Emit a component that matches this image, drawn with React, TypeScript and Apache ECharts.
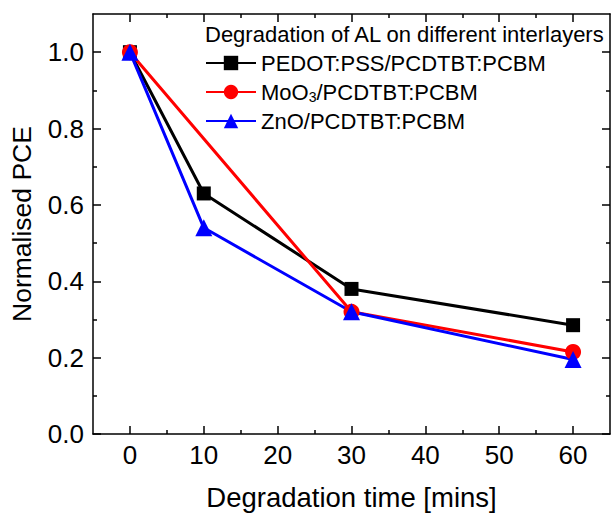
import React, { useEffect, useRef } from "react";
import * as echarts from "echarts";

const pedotTimes = [0, 10, 30, 60];
const pedotValues = [1.0, 0.63, 0.38, 0.285];
const mooTimes = [0, 30, 60];
const mooValues = [1.0, 0.32, 0.215];
const znoTimes = [0, 10, 30, 60];
const znoValues = [1.0, 0.54, 0.32, 0.195];

const seriesNames = ["PEDOT:PSS/PCDTBT:PCBM", "MoO3/PCDTBT:PCBM", "ZnO/PCDTBT:PCBM"];
const legendTitle = "Degradation of AL on different interlayers";
const xMajorTicks = [0, 10, 20, 30, 40, 50, 60];
const xMinorTicks = [5, 15, 25, 35, 45, 55];
const yMajorTicks = [0, 0.2, 0.4, 0.6, 0.8, 1.0];
const yMinorTicks = [0.1, 0.3, 0.5, 0.7, 0.9];

const FONT = "'Liberation Sans', Arial, sans-serif";

function pairs(xs: number[], ys: number[]) {
  return xs.map((x, i) => [x, ys[i]]);
}

export default function App() {
  const ref = useRef<HTMLDivElement>(null);
  useEffect(() => {
    document.body.style.margin = "0";
    const chart = echarts.init(ref.current!, null, { renderer: "svg" });
    const axisLine = { show: true, onZero: false, lineStyle: { color: "#000", width: 1.5 } };
    const noLine = { show: false, onZero: false };
    const mkX = (pos: string, ticks: number[], len: number, labels: boolean, line: boolean) => ({
      type: "value",
      position: pos,
      min: -5,
      max: 65,
      axisLine: line ? axisLine : noLine,
      splitLine: { show: false },
      axisTick: {
        show: true,
        inside: true,
        length: len,
        customValues: ticks,
        lineStyle: { color: "#000", width: 1.5 },
      },
      axisLabel: labels
        ? { show: true, customValues: ticks, fontSize: 26, color: "#000", fontFamily: FONT, margin: 8 }
        : { show: false },
    });
    const mkY = (pos: string, ticks: number[], len: number, labels: boolean, line: boolean) => ({
      type: "value",
      position: pos,
      min: 0,
      max: 1.1,
      axisLine: line ? axisLine : noLine,
      splitLine: { show: false },
      axisTick: {
        show: true,
        inside: true,
        length: len,
        customValues: ticks,
        lineStyle: { color: "#000", width: 1.5 },
      },
      axisLabel: labels
        ? {
            show: true,
            customValues: ticks,
            fontSize: 26,
            color: "#000",
            fontFamily: FONT,
            margin: 9,
            formatter: (v: number) => v.toFixed(1),
          }
        : { show: false },
    });
    const xMain: any = mkX("bottom", xMajorTicks, 8, true, true);
    xMain.name = "Degradation time [mins]";
    xMain.nameLocation = "middle";
    xMain.nameGap = 49;
    xMain.nameTextStyle = { fontSize: 27.5, color: "#000", fontFamily: FONT };
    const yMain: any = mkY("left", yMajorTicks, 8, true, true);
    yMain.name = "Normalised PCE";
    yMain.nameLocation = "middle";
    yMain.nameGap = 58;
    yMain.nameTextStyle = { fontSize: 26.5, color: "#000", fontFamily: FONT };

    const lineSeries = (name: string, data: number[][], color: string, symbol: string, size: number) => ({
      type: "line",
      name,
      data,
      xAxisIndex: 0,
      yAxisIndex: 0,
      symbol,
      symbolSize: size,
      showAllSymbol: true,
      lineStyle: { color, width: 3 },
      itemStyle: { color, borderWidth: 0 },
      emphasis: { disabled: true },
    });

    chart.setOption({
      animation: false,
      grid: { left: 93, right: 1, top: 14, bottom: 81, containLabel: false },
      title: {
        text: legendTitle,
        left: 205,
        top: 23,
        padding: 0,
        textStyle: { fontSize: 22, fontWeight: "normal", color: "#000", fontFamily: FONT },
      },
      legend: {
        orient: "vertical",
        left: 205,
        top: 51,
        padding: 0,
        itemWidth: 50,
        itemHeight: 18,
        itemGap: 5,
        data: seriesNames,
        textStyle: {
          fontSize: 22,
          lineHeight: 24,
          color: "#000",
          fontFamily: FONT,
          rich: {
            a: { fontSize: 22, lineHeight: 24, color: "#000", fontFamily: FONT },
            sub: {
              fontSize: 14,
              lineHeight: 24,
              verticalAlign: "bottom",
              color: "#000",
              fontFamily: FONT,
            },
          },
        },
        formatter: (name: string) =>
          name.startsWith("MoO3") ? "{a|MoO}{sub|3}{a|" + name.slice(4) + "}" : name,
      },
      xAxis: [
        xMain,
        mkX("bottom", xMinorTicks, 4, false, false),
        mkX("top", xMajorTicks, 8, false, true),
        mkX("top", xMinorTicks, 4, false, false),
      ],
      yAxis: [
        yMain,
        mkY("left", yMinorTicks, 4, false, false),
        mkY("right", yMajorTicks, 8, false, true),
        mkY("right", yMinorTicks, 4, false, false),
      ],
      series: [
        lineSeries(seriesNames[0], pairs(pedotTimes, pedotValues), "#000000", "rect", 14),
        lineSeries(seriesNames[1], pairs(mooTimes, mooValues), "#ff0000", "circle", 16),
        lineSeries(seriesNames[2], pairs(znoTimes, znoValues), "#0000ff", "triangle", 17),
      ],
    });
    return () => chart.dispose();
  }, []);
  return (
    <div
      ref={ref}
      style={{ position: "absolute", left: 0, top: 0, width: 611, height: 516, background: "#fff" }}
    />
  );
}
